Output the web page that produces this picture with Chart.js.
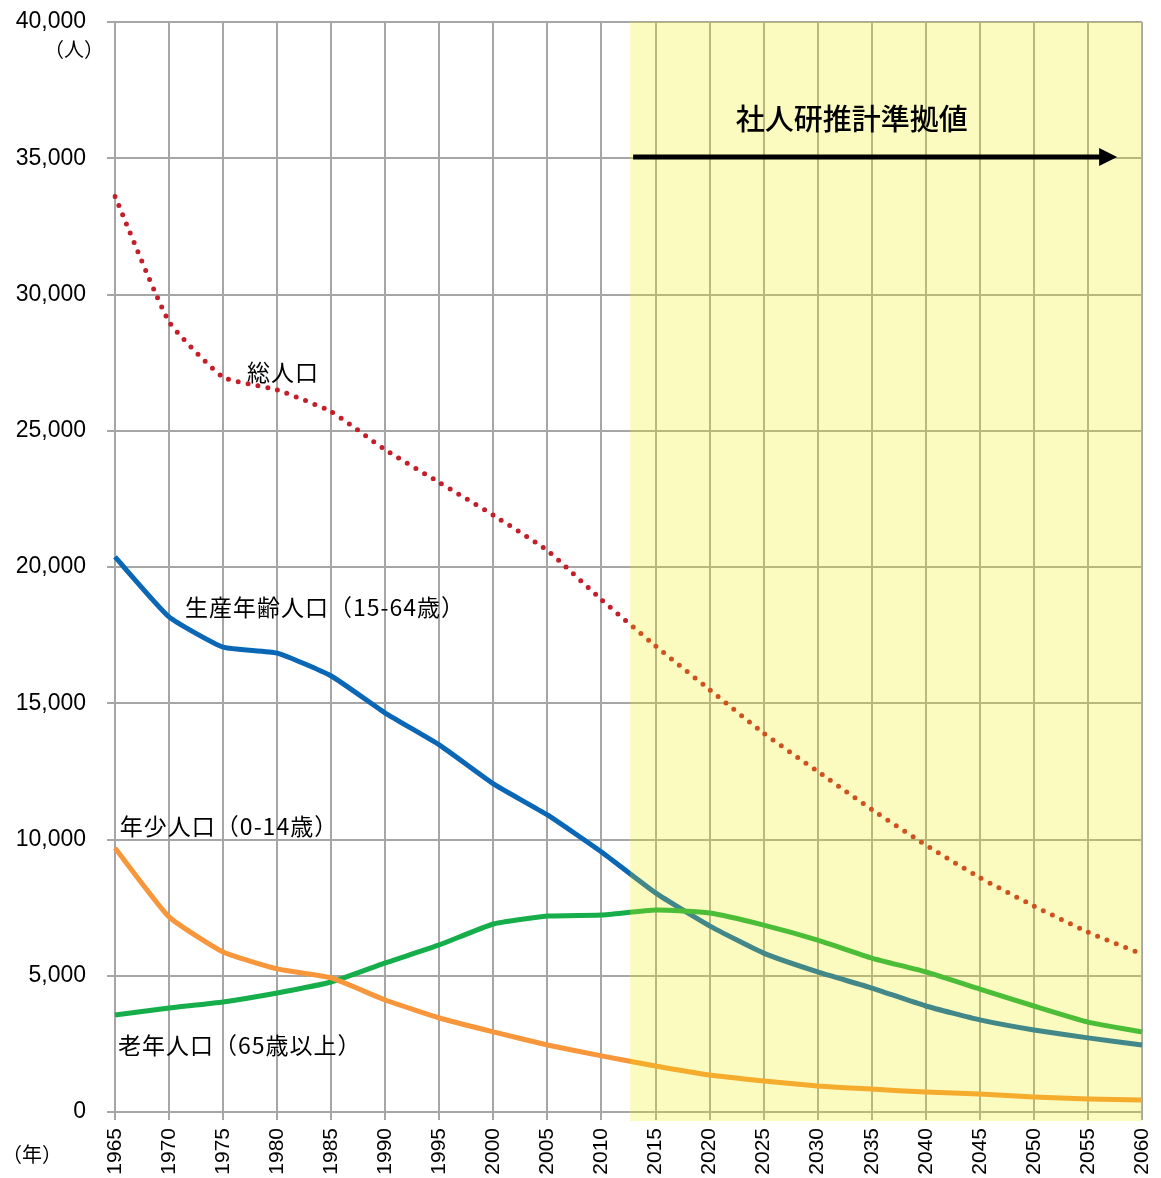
<!DOCTYPE html>
<html>
<head>
<meta charset="utf-8">
<script src="https://cdn.jsdelivr.net/npm/chart.js@4"></script>
<style>
  html, body { margin: 0; padding: 0; background: #fff; }
  #wrap { width: 1161px; height: 1178px; position: relative; }
</style>
</head>
<body>
<div id="wrap"><canvas id="chart" width="1161" height="1178"></canvas></div>
<script>
// years on the x axis
const years = ['1965','1970','1975','1980','1985','1990','1995','2000','2005','2010',
  '2015','2020','2025','2030','2035','2040','2045','2050','2055','2060'];

// 総人口
const totalPop = [33600, 29000, 26970, 26500, 25700, 24300, 23100, 21900, 20600, 18800,
  17100, 15500, 13900, 12500, 11100, 9800, 8600, 7560, 6600, 5800];
// 生産年齢人口（15-64歳）
const workingPop = [20370, 18170, 17060, 16840, 16000, 14640, 13470, 12040, 10900, 9540,
  8040, 6830, 5830, 5140, 4550, 3890, 3380, 3010, 2720, 2460];
// 年少人口（0-14歳）
const youngPop = [9690, 7160, 5870, 5250, 4920, 4110, 3450, 2940, 2460, 2060,
  1690, 1360, 1140, 950, 840, 730, 660, 550, 480, 440];
// 老年人口（65歳以上）
const elderPop = [3560, 3820, 4040, 4370, 4770, 5470, 6130, 6900, 7190, 7230,
  7410, 7300, 6860, 6310, 5650, 5140, 4510, 3890, 3300, 2940];

const projStartIndex = 9.53; // 社人研推計 shading starts a bit after 2010

const JP_FONT = "'Noto Sans CJK JP', 'Noto Sans', sans-serif";
const NUM_FONT = "'Liberation Sans', Arial, sans-serif";
const GRID = '#a6a6a6';

// x pixel for a fractional category index
const xAt = (scale, idx) => {
  const i = Math.floor(idx);
  const a = scale.getPixelForValue(i);
  const b = scale.getPixelForValue(Math.min(i + 1, years.length - 1));
  return a + (b - a) * (idx - i);
};

const overlayPlugin = {
  id: 'overlay',
  afterDatasetsDraw(chart) {
    const { ctx, chartArea, scales } = chart;
    const x0 = xAt(scales.x, projStartIndex);
    ctx.save();
    ctx.fillStyle = 'rgba(240, 234, 0, 0.25)';
    ctx.fillRect(x0, chartArea.top, chartArea.right - x0, chartArea.bottom - chartArea.top + 9);
    ctx.restore();
  },
  afterDraw(chart) {
    const { ctx, scales } = chart;
    const x = scales.x, y = scales.y;
    ctx.save();

    // series labels
    ctx.fillStyle = '#000';
    ctx.textBaseline = 'middle';
    ctx.textAlign = 'left';
    ctx.font = '23px ' + JP_FONT;
    ctx.letterSpacing = '1px';
    ctx.fillText('総人口', xAt(x, 2.44), y.getPixelForValue(27160));
    ctx.fillText('生産年齢人口（15-64歳）', xAt(x, 1.295), y.getPixelForValue(18530));
    ctx.fillText('年少人口（0-14歳）', xAt(x, 0.09), y.getPixelForValue(10495));
    ctx.fillText('老年人口（65歳以上）', xAt(x, 0.055), y.getPixelForValue(2460));
    ctx.letterSpacing = '0px';

    // projection label + arrow
    ctx.font = '500 29px ' + JP_FONT;
    ctx.textAlign = 'center';
    ctx.fillText('社人研推計準拠値', xAt(x, 13.63), y.getPixelForValue(36440));

    const ay = y.getPixelForValue(35050);
    const ax0 = xAt(x, projStartIndex) + 3;
    const ax1 = xAt(x, 18.54);
    ctx.strokeStyle = '#000';
    ctx.lineWidth = 5;
    ctx.beginPath();
    ctx.moveTo(ax0, ay);
    ctx.lineTo(ax1 - 14, ay);
    ctx.stroke();
    ctx.beginPath();
    ctx.moveTo(ax1, ay);
    ctx.lineTo(ax1 - 18, ay - 9);
    ctx.lineTo(ax1 - 18, ay + 9);
    ctx.closePath();
    ctx.fill();

    // unit labels
    ctx.font = '20px ' + JP_FONT;
    ctx.textAlign = 'center';
    ctx.fillText('（人）', 74, 49);
    ctx.fillText('（年）', 32, 1154);
    ctx.restore();
  }
};

const lineStyle = (color) => ({
  borderColor: color,
  backgroundColor: color,
  borderWidth: 5,
  pointRadius: 0,
  tension: 0.15,
  fill: false,
  borderJoinStyle: 'round'
});

new Chart(document.getElementById('chart'), {
  type: 'line',
  data: {
    labels: years,
    datasets: [
      { label: '年少人口', data: youngPop, ...lineStyle('#f7963b') },
      { label: '老年人口', data: elderPop, ...lineStyle('#16ae4a') },
      { label: '生産年齢人口', data: workingPop, ...lineStyle('#0a67b6') },
      {
        label: '総人口', data: totalPop, ...lineStyle('#c41e2a'),
        borderWidth: 5, borderDash: [0, 10], borderCapStyle: 'round'
      }
    ]
  },
  options: {
    responsive: false,
    animation: false,
    devicePixelRatio: 1,
    layout: { padding: { top: 22, right: 19, left: 0, bottom: 0 } },
    plugins: {
      legend: { display: false },
      tooltip: { enabled: false }
    },
    scales: {
      x: {
        offset: false,
        grid: { color: GRID, lineWidth: 2, tickLength: 8, drawOnChartArea: true },
        border: { color: GRID, width: 2 },
        ticks: {
          minRotation: 90, maxRotation: 90, autoSkip: false, padding: 8,
          color: '#000', font: { family: NUM_FONT, size: 21 }
        },
        afterFit(scale) {
          scale.height = 66;
          scale.paddingLeft = 0;
          scale.paddingRight = 0;
        }
      },
      y: {
        min: 0, max: 40000,
        grid: { color: GRID, lineWidth: 2, tickLength: 8 },
        border: { color: GRID, width: 2 },
        ticks: {
          stepSize: 5000, padding: 21, color: '#000',
          font: { family: NUM_FONT, size: 23 },
          callback: (v) => v.toLocaleString('en-US')
        },
        afterFit(scale) {
          scale.width = 115;
          scale.paddingTop = 0;
          scale.paddingBottom = 0;
        }
      }
    }
  },
  plugins: [overlayPlugin]
});
</script>
</body>
</html>
